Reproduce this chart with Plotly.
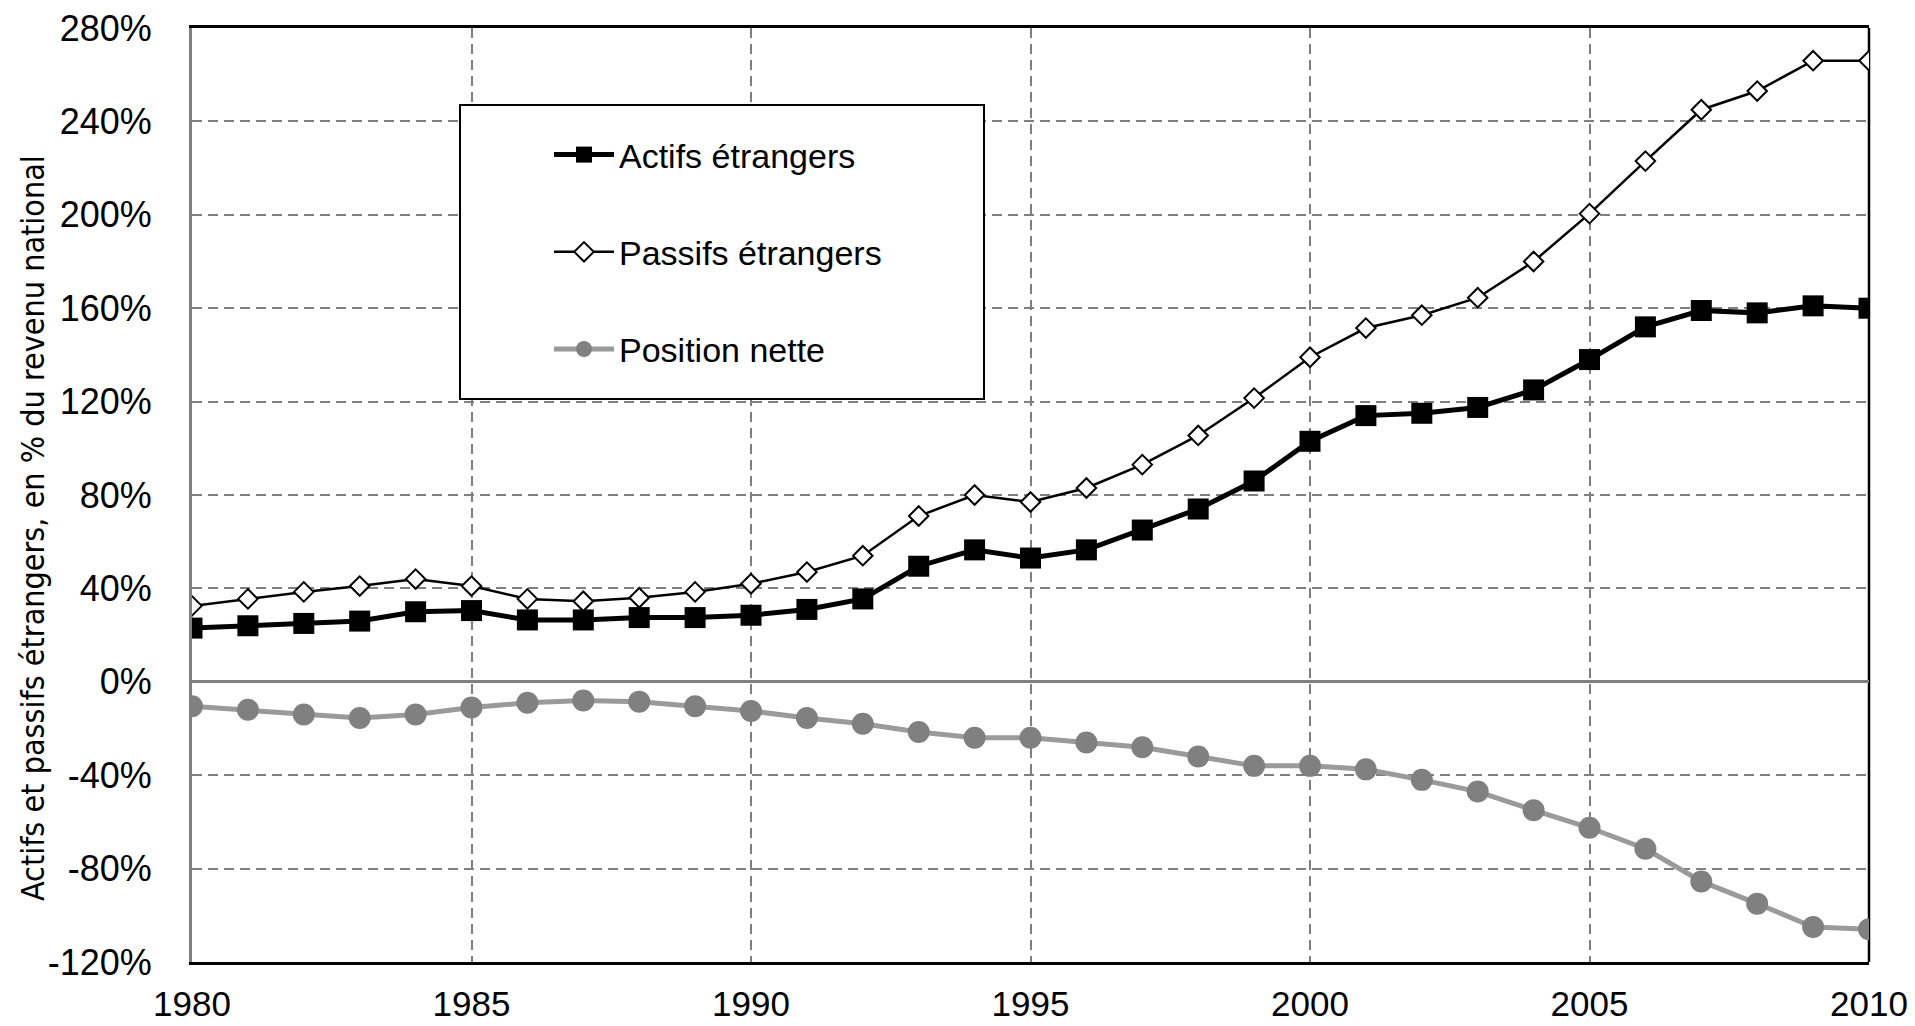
import plotly.graph_objects as go

years = list(range(1980, 2011))

actifs = [23, 24, 25, 26, 30, 30.5, 26.5, 26.5, 27.5, 27.5, 28.5, 31, 35.5, 49.5, 56.5, 53,
          56.5, 65, 74, 86, 103, 114, 115, 117.5, 125, 138, 152, 159, 158, 161, 160]
passifs = [32.5, 35.5, 38.5, 41, 44, 41, 35.5, 34.5, 36, 38.5, 42, 47, 54, 71, 80, 77,
           83, 93, 105.5, 121.5, 139, 151.5, 157, 164.5, 180, 200.5, 223, 245, 253, 266, 266]
nette = [-10.5, -12, -14, -15.5, -14, -11, -9, -8, -8.5, -10.5, -12.5, -15.5, -18, -21.5, -24, -24,
         -26, -28, -32, -36, -36, -37.5, -42, -47, -55, -62.5, -71.5, -85.5, -95, -105, -106]

y_ticks = list(range(-120, 281, 40))
y_ticktext = [f"{v}%" for v in y_ticks]
x_ticks = list(range(1980, 2011, 5))
y_title = "Actifs et passifs étrangers, en % du revenu national"

font_main = "Liberation Sans, Arial, sans-serif"
font_narrow = "Liberation Sans Narrow, Arial Narrow, DejaVu Sans Condensed, Liberation Sans, sans-serif"

# the page body has an 8px default margin: compensate so the plot area lands where the reference has it
PAGE_OFF = 8
PLOT_L, PLOT_R, PLOT_T, PLOT_B = 192, 1869, 28, 962
PLOT_W, PLOT_H = PLOT_R - PLOT_L, PLOT_B - PLOT_T


def px_x(px):
    return (px - PLOT_L) / PLOT_W


def px_y(py):
    return 1 - (py - PLOT_T) / PLOT_H


fig = go.Figure()
fig.add_trace(go.Scatter(
    x=years, y=actifs, name="Actifs étrangers", mode="lines+markers",
    line=dict(color="black", width=5),
    marker=dict(symbol="square", size=21, color="black"),
    legendgroup="a",
))
fig.add_trace(go.Scatter(
    x=years, y=passifs, name="Passifs étrangers", mode="lines+markers",
    line=dict(color="black", width=2.5),
    marker=dict(symbol="diamond", size=15, color="white", line=dict(color="black", width=2)),
    legendgroup="b",
))
fig.add_trace(go.Scatter(
    x=years, y=nette, name="Position nette", mode="lines+markers",
    line=dict(color="#9a9a9a", width=5),
    marker=dict(symbol="circle", size=22, color="#808080"),
    legendgroup="c",
))

# legend box
fig.add_shape(type="rect", xref="paper", yref="paper",
              x0=px_x(460), x1=px_x(984), y0=px_y(399), y1=px_y(105),
              line=dict(color="black", width=2), fillcolor="white", layer="above")
# right border
fig.add_shape(type="line", xref="paper", yref="paper", x0=1, x1=1, y0=0, y1=1,
              line=dict(color="black", width=2.5), layer="between")

# y-axis title (placed as in the reference, slightly below the axis centre)
fig.add_annotation(text=y_title, xref="paper", yref="paper",
                   x=px_x(33), y=px_y(528), xanchor="center", yanchor="middle",
                   textangle=-90, showarrow=False,
                   font=dict(family=font_narrow, size=32, color="black"))

fig.update_layout(
    width=1915 - PAGE_OFF, height=1026 - PAGE_OFF,
    margin=dict(l=PLOT_L - PAGE_OFF, r=1915 - PLOT_R, t=PLOT_T - PAGE_OFF, b=1026 - PLOT_B,
                autoexpand=False),
    paper_bgcolor="white", plot_bgcolor="white",
    font=dict(family=font_main, size=34, color="black"),
    showlegend=True,
    legend=dict(
        x=px_x(549), y=px_y(126), xanchor="left", yanchor="top",
        bgcolor="rgba(0,0,0,0)", borderwidth=0,
        font=dict(family=font_main, size=34, color="black"),
        tracegroupgap=50, itemwidth=60,
    ),
    xaxis=dict(
        range=[1980, 2010], tickmode="array", tickvals=x_ticks,
        showgrid=True, gridcolor="#808080", gridwidth=2, griddash="10px,6px",
        showline=True, linecolor="black", linewidth=2.5, mirror=True,
        ticks="", zeroline=False, ticklabelstandoff=9,
        automargin=False, ticklabeloverflow="allow",
        tickfont=dict(family=font_main, size=35, color="black"),
    ),
    yaxis=dict(
        range=[-120, 280], tickmode="array", tickvals=y_ticks, ticktext=y_ticktext,
        showgrid=True, gridcolor="#808080", gridwidth=2, griddash="10px,6px",
        showline=True, linecolor="#808080", linewidth=3,
        zeroline=True, zerolinecolor="#808080", zerolinewidth=2.5,
        ticks="", ticklabelstandoff=30,
        automargin=False, ticklabeloverflow="allow",
        tickfont=dict(family=font_main, size=36, color="black"),
    ),
)

fig.write_html("out.html")
